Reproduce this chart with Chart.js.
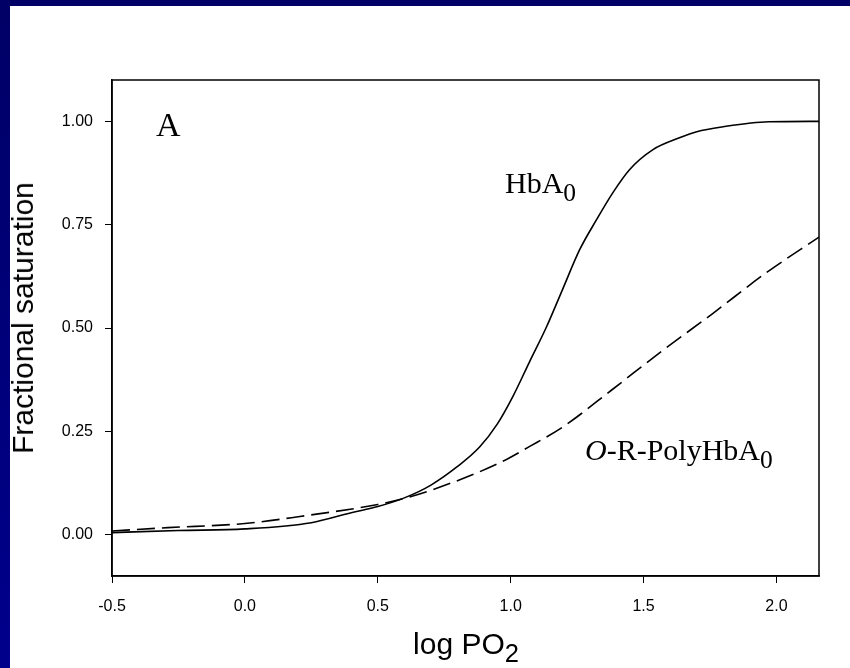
<!DOCTYPE html>
<html>
<head>
<meta charset="utf-8">
<script src="https://cdn.jsdelivr.net/npm/chart.js@4.4.1/dist/chart.umd.min.js"></script>
<style>
  html, body { margin: 0; padding: 0; background: #fff; }
  #wrap { position: relative; width: 850px; height: 668px; overflow: hidden; background: #fff; }
  #topbar { position: absolute; left: 0; top: 0; width: 850px; height: 6px; background: #000066; }
  #leftbar { position: absolute; left: 0; top: 0; width: 10px; height: 668px; background: linear-gradient(#000066, #00008c); }
  canvas { position: absolute; left: 0; top: 0; }
  .lbl { position: absolute; white-space: nowrap; color: #000; }
  .serif { font-family: "Liberation Serif", "Times New Roman", serif; font-size: 30px; }
  .sans { font-family: "Liberation Sans", Arial, sans-serif; font-size: 30px; }
  sub { font-size: 0.85em; vertical-align: -0.3em; line-height: 0; }
</style>
</head>
<body>
<div id="wrap">
  <canvas id="c" width="850" height="668"></canvas>
  <div id="topbar"></div>
  <div id="leftbar"></div>
  <div class="lbl sans" style="left:23px; top:318px; transform: translate(-50%,-50%) rotate(-90deg);">Fractional saturation</div>
  <div class="lbl sans" style="left:466px; top:644px; transform: translate(-50%,-50%);">log PO<sub>2</sub></div>
  <div class="lbl serif" style="left:156px; top:106px; font-size:34px;">A</div>
  <div class="lbl serif" style="left:505px; top:166px;">HbA<sub>0</sub></div>
  <div class="lbl serif" style="left:585px; top:433px;"><i>O</i>-R-PolyHbA<sub>0</sub></div>
</div>
<script>
// HbA0 (solid)
const hbX = [-0.5, -0.25, 0, 0.25, 0.4, 0.5, 0.6, 0.7, 0.8, 0.883, 0.95, 1.008, 1.07, 1.135, 1.195, 1.26, 1.323, 1.384, 1.447, 1.534, 1.635, 1.70, 1.80, 1.97, 2.16];
const hbY = [0.005, 0.01, 0.014, 0.029, 0.053, 0.068, 0.089, 0.12, 0.165, 0.212, 0.268, 0.334, 0.417, 0.503, 0.593, 0.69, 0.762, 0.827, 0.883, 0.931, 0.96, 0.975, 0.987, 0.999, 1.0];

// O-R-PolyHbA0 (dashed)
const polyX = [-0.5, -0.29, 0, 0.207, 0.5, 0.583, 0.707, 0.959, 1.07, 1.195, 1.38, 1.56, 1.76, 1.96, 2.16];
const polyY = [0.009, 0.017, 0.027, 0.044, 0.073, 0.085, 0.109, 0.174, 0.213, 0.26, 0.35, 0.44, 0.535, 0.633, 0.72];

const xTicks = [-0.5, 0.0, 0.5, 1.0, 1.5, 2.0];
const yTicks = [0.00, 0.25, 0.50, 0.75, 1.00];

const toPts = (xs, ys) => xs.map((x, i) => ({ x, y: ys[i] }));

const boxPlugin = {
  id: 'box',
  afterDatasetsDraw(chart) {
    const { ctx, chartArea: a } = chart;
    ctx.save();
    ctx.strokeStyle = '#000';
    ctx.lineWidth = 1.5;
    ctx.strokeRect(a.left, a.top, a.right - a.left, a.bottom - a.top);
    ctx.restore();
  }
};

new Chart(document.getElementById('c'), {
  type: 'line',
  data: {
    datasets: [
      {
        label: 'HbA0',
        data: toPts(hbX, hbY),
        borderColor: '#000',
        borderWidth: 1.6,
        pointRadius: 0,
        cubicInterpolationMode: 'monotone'
      },
      {
        label: 'O-R-PolyHbA0',
        data: toPts(polyX, polyY),
        borderColor: '#000',
        borderWidth: 1.6,
        borderDash: [18, 7],
        pointRadius: 0,
        cubicInterpolationMode: 'monotone'
      }
    ]
  },
  options: {
    responsive: false,
    animation: false,
    layout: { padding: { left: 0, top: 80, right: 31, bottom: 0 } },
    plugins: { legend: { display: false }, tooltip: { enabled: false } },
    scales: {
      x: {
        type: 'linear',
        min: -0.5,
        max: 2.16,
        afterBuildTicks: s => { s.ticks = xTicks.map(v => ({ value: v })); },
        afterFit: s => { s.height = 92; },
        grid: { drawOnChartArea: false, color: '#000', tickLength: 7, lineWidth: 1 },
        border: { color: '#000', width: 1.5 },
        ticks: {
          color: '#000',
          padding: 14,
          maxRotation: 0,
          font: { family: '"Liberation Sans", Arial, sans-serif', size: 16 },
          callback: v => v.toFixed(1)
        }
      },
      y: {
        type: 'linear',
        min: -0.1,
        max: 1.1,
        afterBuildTicks: s => { s.ticks = yTicks.map(v => ({ value: v })); },
        afterFit: s => { s.width = 112; },
        grid: { drawOnChartArea: false, color: '#000', tickLength: 7, lineWidth: 1 },
        border: { color: '#000', width: 1.5 },
        ticks: {
          color: '#000',
          padding: 12,
          font: { family: '"Liberation Sans", Arial, sans-serif', size: 16 },
          callback: v => v.toFixed(2)
        }
      }
    }
  },
  plugins: [boxPlugin]
});
</script>
</body>
</html>
